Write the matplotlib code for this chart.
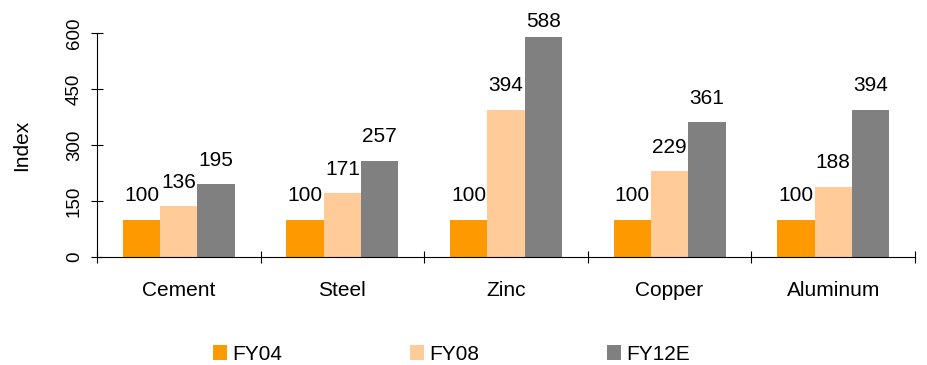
import numpy as np
import matplotlib.pyplot as plt
from matplotlib.patches import Patch

plt.rcParams['font.family'] = ['Liberation Sans', 'DejaVu Sans']

categories = ['Cement', 'Steel', 'Zinc', 'Copper', 'Aluminum']
fy04 = [100, 100, 100, 100, 100]
fy08 = [136, 171, 394, 229, 188]
fy12e = [195, 257, 588, 361, 394]
series_names = ['FY04', 'FY08', 'FY12E']
colors = ['#FF9900', '#FFCC99', '#808080']

# labels are kept inside the chart area: anything taller sits at this height
label_cap = 565

fig = plt.figure(figsize=(9.27, 3.65), dpi=100)
ax = fig.add_axes([0.1046, 0.296, 0.8824, 0.6136])

x = np.arange(len(categories))
w = 0.228
for i, (vals, c) in enumerate(zip([fy04, fy08, fy12e], colors)):
    pos = x + (i - 1) * w
    ax.bar(pos, vals, width=w, color=c, zorder=2)
    for p, v in zip(pos, vals):
        ax.annotate(str(v), xy=(p, min(v, label_cap)), xytext=(0, 10.5),
                    textcoords='offset points', ha='center', va='bottom',
                    fontsize=15, annotation_clip=False)

ax.set_xlim(-0.5, len(categories) - 0.5)
ax.set_ylim(0, 600)
ax.set_yticks([0, 150, 300, 450, 600])
ax.set_yticklabels(['0', '150', '300', '450', '600'], rotation=90, va='center', fontsize=13.5)
ax.set_xticks(x)
ax.set_xticklabels(categories, fontsize=15)
ax.set_xticks(np.arange(len(categories) + 1) - 0.5, minor=True)
ax.tick_params(axis='x', which='major', length=0, pad=17)
ax.tick_params(axis='x', which='minor', length=8, direction='inout', width=0.8)
ax.tick_params(axis='y', length=8, direction='inout', width=0.8, pad=6)
for s in ['top', 'right']:
    ax.spines[s].set_visible(False)
ax.spines['left'].set_linewidth(0.8)
ax.spines['bottom'].set_linewidth(0.8)
ax.set_ylabel('Index', fontsize=15, labelpad=25)

handles = [Patch(facecolor=c, edgecolor='none') for c in colors]
fig.legend(handles, series_names, loc='center', bbox_to_anchor=(0.487, 0.03),
           ncol=3, frameon=False, fontsize=15, handlelength=0.7, handleheight=0.7,
           handletextpad=0.25, columnspacing=6.1)

fig.savefig('out.png', dpi=100)
